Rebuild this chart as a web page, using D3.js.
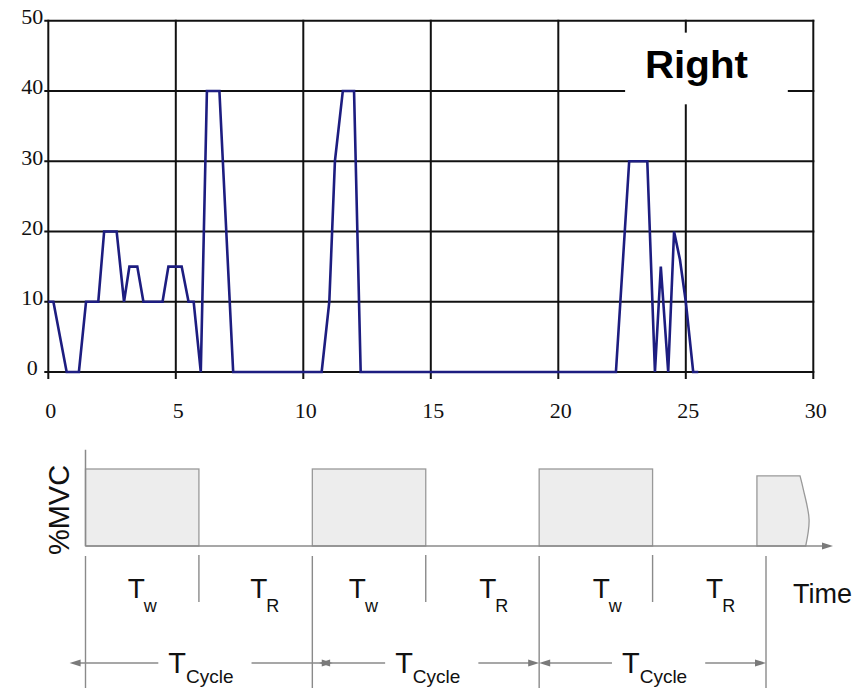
<!DOCTYPE html>
<html>
<head>
<meta charset="utf-8">
<script src="https://cdn.jsdelivr.net/npm/d3@7"></script>
<style>
  html, body { margin: 0; padding: 0; background: #fff; }
  svg { display: block; }
</style>
</head>
<body>
<div id="chart"></div>
<script>
// ---- top chart data (time in s, %MVC) ----
var timeS = [0, 0.2, 0.72, 1.2, 1.48, 1.96, 2.19, 2.68, 2.97, 3.18, 3.49, 3.73, 4.48, 4.71, 5.23,
    5.5, 5.7, 5.98, 6.22, 6.71, 7.25, 10.72, 11.02, 11.24, 11.55, 11.99, 12.25,
    22.26, 22.78, 23.49, 23.79, 24.02, 24.31, 24.54, 24.77, 25.0, 25.29, 25.49];
var mvcPct = [10, 10, 0, 0, 10, 10, 20, 20, 10, 15, 15, 10, 10, 15, 15,
    10, 10, 0, 40, 40, 0, 0, 10, 30, 40, 40, 0,
    0, 30, 30, 0, 15, 0, 20, 16, 10, 0, 0];
var xTicks = [0, 5, 10, 15, 20, 25, 30];
var yTicks = [0, 10, 20, 30, 40, 50];
var panelTitle = "Right";

// ---- bottom diagram data (diagram time units: one half-cycle = 1) ----
var workPulses = [[0, 1], [2, 3], [4, 5]];
var partialPulse = { start: 5.92, end: 6.3, level: 0.91 };
var partialEdge = [[6.3, 0.91], [6.33, 0.73], [6.38, 0.34], [6.35, 0]];
var longDividers = [0, 2, 4, 6];
var shortDividers = [1, 3, 5];
var phaseSubs = ["w", "R", "w", "R", "w", "R"];
var phaseCenters = [0.5, 1.58, 2.45, 3.6, 4.6, 5.6];
var cycleStarts = [-0.14, 2.06, 4.0];
var cycleEnds = [2.18, 4.0, 6.0];

var width = 865, height = 688;

var svg = d3.select("#chart").append("svg")
    .attr("width", width)
    .attr("height", height);

/* ------- TOP CHART ------- */
var x = d3.scaleLinear().domain([0, 30]).range([48.3, 813.3]);
var y = d3.scaleLinear().domain([0, 50]).range([372, 20.7]);

var plot = svg.append("g");

// grid (verticals stick out below the x axis, horizontals stick out left)
plot.append("g").selectAll("line")
    .data(xTicks)
    .enter().append("line")
    .attr("x1", d => x(d)).attr("x2", d => x(d))
    .attr("y1", y(50) - 1).attr("y2", y(0) + 7)
    .attr("stroke", "#111").attr("stroke-width", 2);

plot.append("g").selectAll("line")
    .data(yTicks)
    .enter().append("line")
    .attr("x1", x(0) - 4).attr("x2", x(30) + 1)
    .attr("y1", d => y(d)).attr("y2", d => y(d))
    .attr("stroke", "#111").attr("stroke-width", 2);

// white box behind the panel title
plot.append("rect")
    .attr("x", x(22.62)).attr("y", y(48.3))
    .attr("width", x(29.0) - x(22.62)).attr("height", y(38.1) - y(48.3))
    .attr("fill", "#fff");

plot.append("text")
    .attr("x", 645).attr("y", 78)
    .style("font-family", "'Liberation Sans', Arial, sans-serif")
    .style("font-weight", "bold")
    .style("font-size", "38px")
    .attr("textLength", 103)
    .attr("lengthAdjust", "spacingAndGlyphs")
    .attr("fill", "#000")
    .text(panelTitle);

// axes: labels only
var xAxis = d3.axisBottom(x).tickValues(xTicks).tickSize(0).tickPadding(30);
var yAxis = d3.axisLeft(y).tickValues(yTicks).tickSize(0).tickPadding(16);

var gx = plot.append("g").attr("transform", "translate(0," + y(0) + ")").call(xAxis);
var gy = plot.append("g").attr("transform", "translate(" + x(0) + ",0)").call(yAxis);

[gx, gy].forEach(function(g) {
    g.select(".domain").remove();
    g.attr("font-family", null).attr("font-size", null);
    g.selectAll("text")
        .style("font-family", "'Liberation Serif', 'Times New Roman', serif")
        .style("font-size", "22px")
        .attr("fill", "#111");
});
gx.selectAll("text").attr("dx", 2);
gy.selectAll("text")
    .attr("text-anchor", "middle")
    .attr("x", -16)
    .attr("dy", "0.13em");

// the %MVC trace
var line = d3.line()
    .x((d, i) => x(timeS[i]))
    .y(d => y(d));

plot.append("path")
    .datum(mvcPct)
    .attr("d", line)
    .attr("fill", "none")
    .attr("stroke", "#1d1d80")
    .attr("stroke-width", 2.6)
    .attr("stroke-linejoin", "miter");

/* ------- BOTTOM DIAGRAM ------- */
var dx = d3.scaleLinear().domain([0, 6]).range([85.5, 766]);
var dy = d3.scaleLinear().domain([0, 1]).range([546, 469]);

var grey = "#8a8a8a";
var sans = "'Liberation Sans', Arial, Helvetica, sans-serif";
var diag = svg.append("g");

function arrowHead(g, tipX, yy, dir) {
    // dir = 1 points right, -1 points left
    g.append("path")
        .attr("d", "M" + tipX + "," + yy +
            " L" + (tipX - dir * 11) + "," + (yy - 3.5) +
            " L" + (tipX - dir * 11) + "," + (yy + 3.5) + " Z")
        .attr("fill", "#7a7a7a");
}

// pulses
diag.selectAll("rect.pulse")
    .data(workPulses)
    .enter().append("rect")
    .attr("x", d => dx(d[0]))
    .attr("y", dy(1))
    .attr("width", d => dx(d[1]) - dx(d[0]))
    .attr("height", dy(0) - dy(1))
    .attr("fill", "#ededed")
    .attr("stroke", "#999")
    .attr("stroke-width", 1.3);

var edge = d3.line()
    .x(d => dx(d[0]))
    .y(d => dy(d[1]))
    .curve(d3.curveCatmullRom);

diag.append("path")
    .attr("d", "M" + dx(partialPulse.start) + "," + dy(0) +
        " L" + dx(partialPulse.start) + "," + dy(partialPulse.level) +
        " L" + dx(partialPulse.end) + "," + dy(partialPulse.level) +
        edge(partialEdge).replace(/^M/, " L") + " Z")
    .attr("fill", "#ededed")
    .attr("stroke", "#999")
    .attr("stroke-width", 1.3);

// axes of the diagram
diag.append("line")
    .attr("x1", dx(0)).attr("x2", dx(0))
    .attr("y1", dy(1.25)).attr("y2", dy(0))
    .attr("stroke", grey).attr("stroke-width", 1.5);

diag.append("line")
    .attr("x1", dx(0)).attr("x2", 824)
    .attr("y1", dy(0)).attr("y2", dy(0))
    .attr("stroke", grey).attr("stroke-width", 1.5);
arrowHead(diag, 833, dy(0), 1);

diag.append("text")
    .attr("transform", "translate(69," + 510 + ") rotate(-90)")
    .attr("text-anchor", "middle")
    .style("font-family", sans)
    .style("font-size", "29px")
    .attr("fill", "#111")
    .text("%MVC");

diag.append("text")
    .attr("x", 793).attr("y", 603)
    .style("font-family", sans)
    .style("font-size", "27px")
    .attr("fill", "#111")
    .text("Time");

// divider lines under the time axis
diag.selectAll("line.long")
    .data(longDividers)
    .enter().append("line")
    .attr("x1", d => dx(d)).attr("x2", d => dx(d))
    .attr("y1", 556).attr("y2", height)
    .attr("stroke", grey).attr("stroke-width", 1.4);

diag.selectAll("line.short")
    .data(shortDividers)
    .enter().append("line")
    .attr("x1", d => dx(d)).attr("x2", d => dx(d))
    .attr("y1", 555).attr("y2", 602)
    .attr("stroke", grey).attr("stroke-width", 1.4);

// T_w / T_R labels
var phase = diag.selectAll("text.phase")
    .data(phaseSubs)
    .enter().append("text")
    .attr("x", (d, i) => dx(phaseCenters[i]))
    .attr("y", 598)
    .attr("text-anchor", "middle")
    .style("font-family", sans)
    .attr("fill", "#111");
phase.append("tspan").style("font-size", "28px").text("T");
phase.append("tspan").style("font-size", "18px").attr("dy", 14).attr("dx", -1).text(d => d);

// T_Cycle arrows
cycleStarts.forEach(function(s, i) {
    var a = dx(s), b = dx(cycleEnds[i]), yy = 663, mid = dx(i * 2 + 1);
    var t = diag.append("text")
        .attr("x", mid + 2).attr("y", 673)
        .attr("text-anchor", "middle")
        .style("font-family", sans)
        .attr("fill", "#111");
    t.append("tspan").style("font-size", "29px").text("T");
    t.append("tspan").style("font-size", "19px").attr("dy", 10).text("Cycle");
    var bb = t.node().getBBox();
    diag.append("line")
        .attr("x1", a + 8).attr("x2", bb.x - 10)
        .attr("y1", yy).attr("y2", yy)
        .attr("stroke", grey).attr("stroke-width", 1.4);
    diag.append("line")
        .attr("x1", bb.x + bb.width + 18).attr("x2", b - 8)
        .attr("y1", yy).attr("y2", yy)
        .attr("stroke", grey).attr("stroke-width", 1.4);
    arrowHead(diag, a, yy, -1);
    arrowHead(diag, b, yy, 1);
});
</script>
</body>
</html>
